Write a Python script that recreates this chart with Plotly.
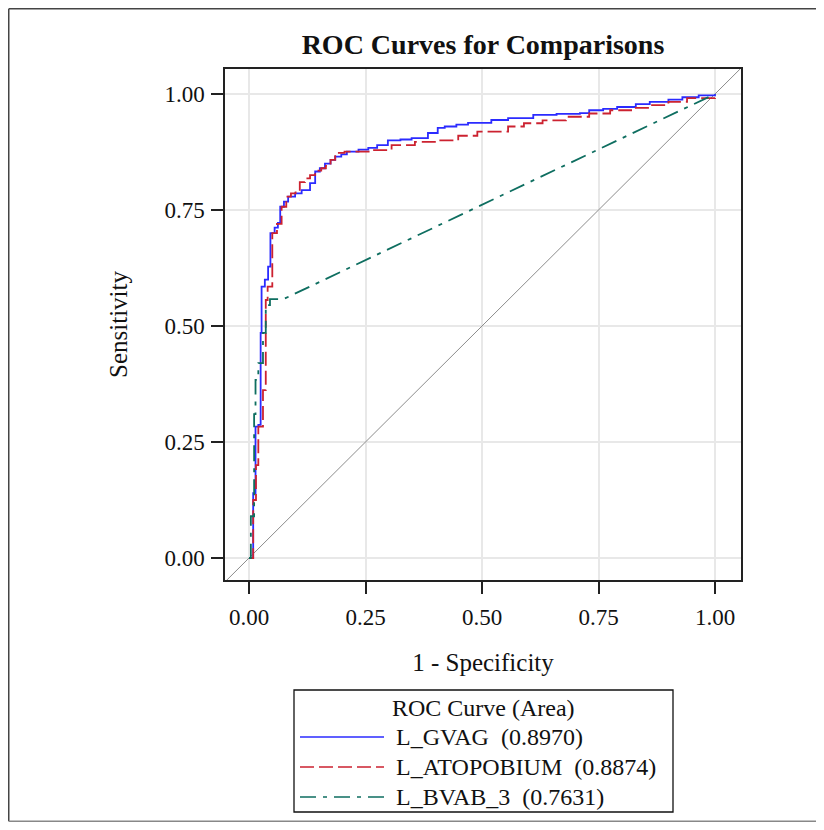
import plotly.graph_objects as go

# ---- data ----
gvag_fpr = [0, 0.009, 0.014, 0.020, 0.025, 0.027, 0.034, 0.041, 0.046, 0.055, 0.062, 0.067, 0.075, 0.084,
            0.099, 0.113, 0.131, 0.142, 0.152, 0.163, 0.175, 0.185, 0.198, 0.210, 0.235, 0.256, 0.275, 0.298,
            0.325, 0.349, 0.384, 0.405, 0.420, 0.445, 0.470, 0.520, 0.556, 0.610, 0.660, 0.710, 0.730, 0.760,
            0.790, 0.830, 0.860, 0.900, 0.930, 0.965, 1.0]
gvag_tpr = [0, 0.140, 0.283, 0.287, 0.485, 0.585, 0.600, 0.628, 0.700, 0.712, 0.722, 0.757, 0.768, 0.779,
            0.786, 0.793, 0.808, 0.833, 0.840, 0.850, 0.858, 0.865, 0.870, 0.876, 0.880, 0.884, 0.890, 0.900,
            0.902, 0.905, 0.916, 0.927, 0.930, 0.934, 0.938, 0.944, 0.948, 0.955, 0.957, 0.959, 0.965, 0.968,
            0.972, 0.978, 0.983, 0.988, 0.993, 0.997, 1.0]

atop_fpr = [0, 0.009, 0.015, 0.020, 0.030, 0.036, 0.040, 0.050, 0.060, 0.070, 0.080, 0.090, 0.100, 0.109,
            0.120, 0.131, 0.142, 0.155, 0.165, 0.175, 0.185, 0.205, 0.263, 0.306, 0.356, 0.405, 0.449, 0.490,
            0.556, 0.590, 0.630, 0.680, 0.730, 0.775, 0.820, 0.860, 0.900, 0.940, 1.0]
atop_tpr = [0, 0.125, 0.200, 0.283, 0.362, 0.556, 0.585, 0.700, 0.720, 0.757, 0.779, 0.786, 0.790, 0.810,
            0.818, 0.825, 0.835, 0.840, 0.845, 0.858, 0.873, 0.876, 0.879, 0.890, 0.897, 0.900, 0.910, 0.919,
            0.930, 0.937, 0.943, 0.951, 0.958, 0.965, 0.970, 0.976, 0.983, 0.991, 1.0]

bvab_fpr = [0, 0.004, 0.004, 0.011, 0.011, 0.014, 0.014, 0.020, 0.020, 0.030, 0.030, 0.036, 0.036, 0.038,
            0.038, 0.045, 0.045, 0.074, 1.0]
bvab_tpr = [0, 0, 0.090, 0.090, 0.310, 0.310, 0.384, 0.384, 0.420, 0.420, 0.485, 0.485, 0.539, 0.539,
            0.545, 0.545, 0.558, 0.558, 1.0]

series_names = ["L_GVAG\u00a0 (0.8970)", "L_ATOPOBIUM\u00a0 (0.8874)", "L_BVAB_3\u00a0 (0.7631)"]
series_colors = ["#2b2bff", "#cc2230", "#0e6e60"]
series_dash = ["solid", "14px,5px", "16px,7px,4px,7px"]
series_shape = ["hv", "hv", "linear"]
legend_title = "ROC Curve (Area)"
tick_vals = [0, 0.25, 0.5, 0.75, 1.0]
tick_text = ["0.00", "0.25", "0.50", "0.75", "1.00"]
x_range = [-0.0515, 1.0558]
y_range = [-0.0474, 1.0539]

FONT = "Liberation Serif, Times New Roman, serif"
TXT = "#111"

# figure geometry (page body has an 8px margin)
L, T = 217, 61
pw, ph = 516, 511
W, H = 824, 814
R, B = W - L - pw, H - T - ph


def px(fx):   # figure pixel x -> paper x
    return (fx - L) / pw


def py(fy):   # figure pixel y -> paper y
    return (H - B - fy) / ph


fig = go.Figure()

# chance diagonal
fig.add_trace(go.Scatter(x=x_range, y=x_range, mode="lines",
                         line=dict(color="#8c8c8c", width=1), showlegend=False, hoverinfo="skip"))

for xs, ys, nm, col, dsh, shp in zip([gvag_fpr, atop_fpr, bvab_fpr], [gvag_tpr, atop_tpr, bvab_tpr],
                                      series_names, series_colors, series_dash, series_shape):
    fig.add_trace(go.Scatter(x=xs, y=ys, mode="lines", name=nm, showlegend=False,
                             line=dict(color=col, width=1.8, shape=shp, dash=dsh)))

axis_common = dict(
    showline=True, mirror=True, linecolor="#222", linewidth=1.5,
    ticks="outside", ticklen=12, tickcolor="#222", tickwidth=1.5,
    showgrid=True, gridcolor="#e8e8e8", gridwidth=1.5, zeroline=False,
    tickvals=tick_vals, ticktext=tick_text,
    tickfont=dict(family=FONT, size=23, color=TXT),
)

fig.update_xaxes(range=x_range, ticklabelstandoff=4,
                 title=dict(text="1 - Specificity", font=dict(family=FONT, size=25, color=TXT), standoff=24),
                 **axis_common)
fig.update_yaxes(range=y_range, ticklabelstandoff=2,
                 title=dict(text="Sensitivity", font=dict(family=FONT, size=25, color=TXT), standoff=30),
                 **axis_common)

# outer frame: left, top, bottom edges
frame = dict(color="#444", width=1.5)
fig.add_shape(type="line", xref="paper", yref="paper", x0=px(0.75), x1=px(0.75), y0=py(H - 0.75), y1=py(0.75), line=frame)
fig.add_shape(type="line", xref="paper", yref="paper", x0=px(0.75), x1=px(W), y0=py(0.75), y1=py(0.75), line=frame)
fig.add_shape(type="line", xref="paper", yref="paper", x0=px(0.75), x1=px(W), y0=py(H - 0.75), y1=py(H - 0.75),
              line=dict(color="#888", width=1.5))

# legend box (built from the series lists)
off = 8
fig.add_shape(type="rect", xref="paper", yref="paper",
              x0=px(294 - off), x1=px(673 - off), y0=py(812 - off), y1=py(690 - off),
              line=dict(color="#111", width=1.3), fillcolor="white")
fig.add_annotation(xref="paper", yref="paper", x=px(483.5 - off), y=py(708 - off), text=legend_title,
                   showarrow=False, xanchor="center", yanchor="middle", font=dict(family=FONT, size=24, color=TXT))
for i, (nm, col, dsh) in enumerate(zip(series_names, series_colors, series_dash)):
    yy = 737 + 30 * i - off
    fig.add_shape(type="line", xref="paper", yref="paper", x0=px(300 - off), x1=px(384 - off),
                  y0=py(yy), y1=py(yy), line=dict(color=col, width=1.6, dash=dsh))
    fig.add_annotation(xref="paper", yref="paper", x=px(394 - off), y=py(yy), text=nm, showarrow=False,
                       xanchor="left", yanchor="middle", font=dict(family=FONT, size=24, color=TXT))

fig.update_layout(
    width=W, height=H,
    margin=dict(l=L, r=R, t=T, b=B),
    paper_bgcolor="white", plot_bgcolor="white",
    title=dict(text="<b>ROC Curves for Comparisons</b>", x=(483 - 8) / W, xanchor="center",
               y=1 - (44 - 8) / H, yanchor="middle", font=dict(family=FONT, size=28, color=TXT)),
    showlegend=False,
)

fig.write_html("out.html")
